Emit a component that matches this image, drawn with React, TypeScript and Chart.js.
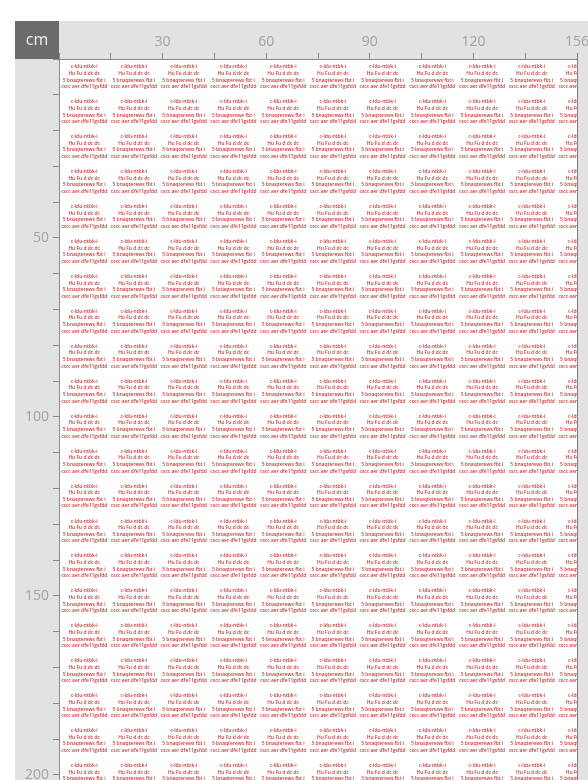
import React, { useEffect, useRef } from "react";
import { Chart, registerables } from "chart.js";

Chart.register(...registerables);

// Top axis (cm) ticks and their labels
const xTickValues = [0, 15, 30, 45, 60, 75, 90, 105, 120, 135, 150];
const xTickLabels = ["", "", "30", "", "60", "", "90", "", "120", "", "156"];
// Left axis (cm) ticks and their labels
const yTickValues = [0, 10, 20, 30, 40, 50, 60, 70, 80, 90, 100, 110, 120, 130, 140, 150, 160, 170, 180, 190, 200];
const yTickLabels = [
  "", "", "", "", "", "50", "", "", "", "", "100",
  "", "", "", "", "150", "", "", "", "", "200",
];
// Label cell centres (cm)
const cellColumns = [7.3, 21.7, 36.1, 50.5, 64.9, 79.3, 93.7, 108.1, 122.5, 136.9, 151.3];
const cellRows = [
  5.0, 14.8, 24.5, 34.3, 44.0, 53.8, 63.6, 73.3, 83.1, 92.8, 102.6,
  112.4, 122.1, 131.9, 141.6, 151.4, 161.2, 170.9, 180.7, 190.4, 200.2,
];
// Text printed in each cell
const cellText = ["c-ldu-ntbk-i", "Hu Fu d dc dc", "5 bnaqterews fbt i", "cscc aer dfe11gsfdd"];
const unitLabel = "cm";

const lookup = (values: number[], labels: string[]) => (v: any) => {
  const i = values.indexOf(Number(v));
  return i >= 0 ? labels[i] : "";
};

export default function App() {
  const ref = useRef<HTMLCanvasElement | null>(null);

  useEffect(() => {
    if (!ref.current) return;
    const points: { x: number; y: number }[] = [];
    for (const y of cellRows) for (const x of cellColumns) points.push({ x, y });

    const frame = {
      id: "frame",
      beforeDraw(chart: any) {
        const { ctx, chartArea } = chart;
        ctx.save();
        ctx.fillStyle = "#e2e2e2";
        ctx.fillRect(15, 21, chart.width - 15, chart.height - 21);
        ctx.fillStyle = "#ffffff";
        ctx.fillRect(chartArea.left, chartArea.top, chartArea.right - chartArea.left, chartArea.bottom - chartArea.top);
        ctx.fillStyle = "#6b6b6e";
        ctx.fillRect(15, 21, chartArea.left - 15, chartArea.top - 21);
        ctx.fillStyle = "#f2f2f2";
        ctx.font = "16px 'Open Sans'";
        ctx.textAlign = "center";
        ctx.textBaseline = "middle";
        ctx.fillText(unitLabel, (15 + chartArea.left) / 2, (21 + chartArea.top) / 2);
        ctx.restore();
      },
      afterDatasetsDraw(chart: any) {
        const { ctx, chartArea } = chart;
        const meta = chart.getDatasetMeta(0);
        ctx.save();
        ctx.beginPath();
        ctx.rect(chartArea.left + 1, chartArea.top, chartArea.right - chartArea.left - 1, chartArea.bottom - chartArea.top);
        ctx.clip();
        ctx.fillStyle = "#d43636";
        ctx.font = "600 4.9px 'Open Sans'";
        ctx.textAlign = "center";
        ctx.textBaseline = "middle";
        const offs = [-10, -3.4, 3.3, 9.9];
        for (const el of meta.data) {
          cellText.forEach((t, i) => ctx.fillText(t, el.x, el.y + offs[i]));
        }
        ctx.restore();
        ctx.save();
        ctx.strokeStyle = "#7a7a7a";
        ctx.lineWidth = 1;
        ctx.beginPath();
        ctx.moveTo(Math.round(chartArea.right) + 0.5, chartArea.top - 6);
        ctx.lineTo(Math.round(chartArea.right) + 0.5, chartArea.bottom);
        ctx.stroke();
        ctx.restore();
      },
    };

    const chart = new Chart(ref.current, {
      type: "scatter",
      data: {
        datasets: [
          {
            data: points,
            pointRadius: 0,
            pointHoverRadius: 0,
            showLine: false,
          },
        ],
      },
      options: {
        animation: false,
        responsive: false,
        events: [],
        layout: { padding: { left: 15, top: 21, right: 11, bottom: 0 } },
        plugins: { legend: { display: false }, tooltip: { enabled: false } },
        scales: {
          x: {
            type: "linear",
            position: "top",
            min: 0,
            max: 150,
            ticks: {
              stepSize: 15,
              includeBounds: false,
              autoSkip: false,
              maxRotation: 0,
              padding: 3,
              color: "#a2a2a2",
              font: { family: "'Open Sans'", size: 14 },
              callback: lookup(xTickValues, xTickLabels),
            },
            grid: { drawOnChartArea: false, drawTicks: true, tickLength: 6, color: "#8a8a8a" },
            border: { display: true, color: "#8a8a8a" },
            afterFit: (s: any) => {
              s.height = 38;
              s.paddingLeft = 0;
              s.paddingRight = 0;
            },
          },
          y: {
            type: "linear",
            position: "left",
            reverse: true,
            min: 0,
            max: 201.4,
            ticks: {
              stepSize: 10,
              includeBounds: false,
              autoSkip: false,
              padding: 4,
              color: "#a2a2a2",
              font: { family: "'Open Sans'", size: 14 },
              callback: lookup(yTickValues, yTickLabels),
            },
            grid: { drawOnChartArea: false, drawTicks: true, tickLength: 6, color: "#8a8a8a" },
            border: { display: true, color: "#8a8a8a" },
            afterFit: (s: any) => {
              s.width = 44;
              s.paddingTop = 0;
              s.paddingBottom = 0;
            },
          },
        },
      },
      plugins: [frame],
    });
    return () => chart.destroy();
  }, []);

  return (
    <div style={{ position: "fixed", left: 0, top: 0, width: 588, height: 780, overflow: "hidden" }}>
      <canvas ref={ref} width={588} height={780} style={{ display: "block" }} />
    </div>
  );
}
